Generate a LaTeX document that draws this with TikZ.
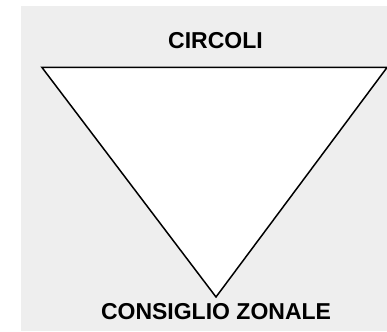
\documentclass[tikz,border=0pt]{standalone}
\usepackage{fontspec}
\setmainfont{Liberation Sans}
\definecolor{bggray}{RGB}{238,238,238}
\begin{document}
\begin{tikzpicture}[x=1pt,y=1pt,
  lbl/.style={font=\fontsize{23}{27}\selectfont\bfseries, text=black, inner sep=0pt, anchor=base},
  tri/.style={draw=black, fill=white, line width=1.5pt, line join=miter}]
\useasboundingbox (0,0) rectangle (387,331);
\fill[white] (0,0) rectangle (387,331);
\fill[bggray] (21,0) rectangle (387,325);
\coordinate (tl) at (42,263.5);
\coordinate (tr) at (387,263.5);
\coordinate (bt) at (216,34);
\draw[tri] (tl) -- (tr) -- (bt) -- cycle;
\node[lbl] (circ) at (215.5,282) {CIRCOLI};
\node[lbl] (cons) at (216,11) {CONSIGLIO ZONALE};
\end{tikzpicture}
\end{document}
